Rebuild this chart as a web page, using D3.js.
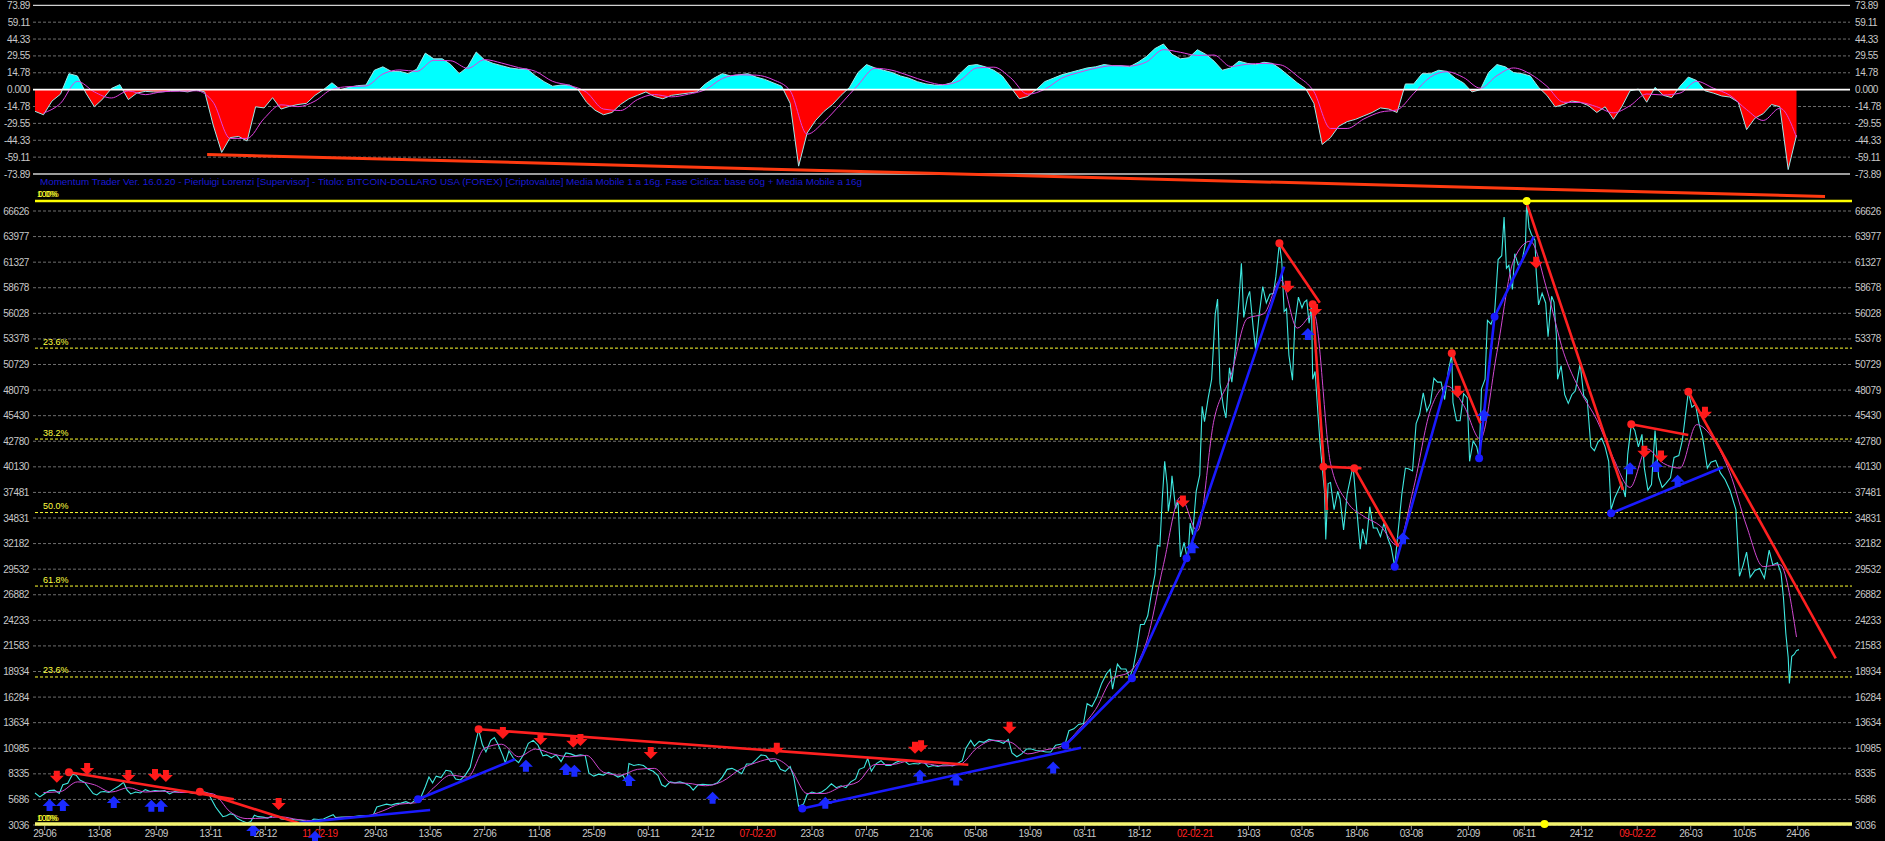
<!DOCTYPE html>
<html><head><meta charset="utf-8">
<script src="https://cdn.jsdelivr.net/npm/d3@7"></script>
<style>
html,body{margin:0;padding:0;background:#000;overflow:hidden}
svg{display:block}
text{font-family:"Liberation Sans",Arial,sans-serif}
</style></head><body>
<svg id="chart" width="1885" height="841"></svg>
<script>
// ---------------- DATA ----------------
const headerText = "Momentum Trader   Ver. 16.0.20   -   Pierluigi Lorenzi   [Supervisor]  -  Titolo: BITCOIN-DOLLARO USA (FOREX)   [Criptovalute]    Media Mobile 1 a 16g.    Fase Ciclica: base 60g + Media Mobile a 16g";

const oscTicks = [73.89, 59.11, 44.33, 29.55, 14.78, 0, -14.78, -29.55, -44.33, -59.11, -73.89];
const oscTickLabels = ["73.89","59.11","44.33","29.55","14.78","0.000","-14.78","-29.55","-44.33","-59.11","-73.89"];
const priceTicks = [3036,5686,8335,10985,13634,16284,18934,21583,24233,26882,29532,32182,34831,37481,40130,42780,45430,48079,50729,53378,56028,58678,61327,63977,66626];

const xTickDates = ["2018-06-29","2018-08-13","2018-09-29","2018-11-13","2018-12-28","2019-02-11","2019-03-29","2019-05-13","2019-06-27","2019-08-11","2019-09-25","2019-11-09","2019-12-24","2020-02-07","2020-03-23","2020-05-07","2020-06-21","2020-08-05","2020-09-19","2020-11-03","2020-12-18","2021-02-02","2021-03-19","2021-05-03","2021-06-18","2021-08-03","2021-09-20","2021-11-06","2021-12-24","2022-02-09","2022-03-26","2022-05-10","2022-06-24"];
const xTickLabels = ["29-06","13-08","29-09","13-11","28-12","11-02-19","29-03","13-05","27-06","11-08","25-09","09-11","24-12","07-02-20","23-03","07-05","21-06","05-08","19-09","03-11","18-12","02-02-21","19-03","03-05","18-06","03-08","20-09","06-11","24-12","09-02-22","26-03","10-05","24-06"];

const pricePoints = [
["2018-06-21",6350],["2018-06-25",5950],["2018-06-29",6300],["2018-07-03",6600],["2018-07-07",6650],["2018-07-11",6300],["2018-07-14",7200],["2018-07-18",7350],["2018-07-22",8300],["2018-07-25",8200],["2018-07-28",7700],["2018-08-01",7450],["2018-08-04",6950],["2018-08-08",6300],["2018-08-11",6150],["2018-08-14",6450],["2018-08-17",6500],["2018-08-21",6400],["2018-08-25",6750],["2018-08-29",7050],["2018-09-02",7450],["2018-09-05",6650],["2018-09-08",6250],["2018-09-12",6450],["2018-09-16",6350],["2018-09-20",6700],["2018-09-24",6500],["2018-09-28",6600],["2018-10-02",6550],["2018-10-06",6600],["2018-10-10",6250],["2018-10-14",6500],["2018-10-18",6450],["2018-10-22",6450],["2018-10-26",6400],["2018-10-30",6300],["2018-11-04",6450],["2018-11-08",6450],["2018-11-11",6300],["2018-11-14",5600],["2018-11-17",4900],["2018-11-20",4400],["2018-11-23",3900],["2018-11-26",4000],["2018-11-29",4200],["2018-12-02",4100],["2018-12-05",3700],["2018-12-09",3450],["2018-12-13",3250],["2018-12-16",3400],["2018-12-19",4050],["2018-12-22",3900],["2018-12-26",3850],["2018-12-30",3750],
["2019-01-03",4000],["2019-01-07",4000],["2019-01-10",3650],["2019-01-14",3600],["2019-01-18",3650],["2019-01-22",3550],["2019-01-26",3550],["2019-01-30",3450],["2019-02-03",3400],["2019-02-06",3650],["2019-02-10",3600],["2019-02-14",3650],["2019-02-18",3900],["2019-02-22",4100],["2019-02-24",3800],["2019-03-01",3850],["2019-03-06",3850],["2019-03-11",3900],["2019-03-16",4000],["2019-03-21",4000],["2019-03-27",4050],["2019-03-30",4900],["2019-04-03",5050],["2019-04-07",5200],["2019-04-11",5100],["2019-04-15",5250],["2019-04-19",5300],["2019-04-23",5450],["2019-04-27",5250],["2019-05-01",5650],["2019-05-05",5800],["2019-05-09",7000],["2019-05-12",8000],["2019-05-15",7400],["2019-05-18",8100],["2019-05-22",7950],["2019-05-26",8700],["2019-05-30",8600],["2019-06-03",7800],["2019-06-07",7700],["2019-06-11",8200],["2019-06-15",9000],["2019-06-18",10700],["2019-06-22",12900],["2019-06-25",11400],["2019-06-28",10600],["2019-07-02",11800],["2019-07-05",12100],["2019-07-08",11400],["2019-07-12",10200],["2019-07-14",9500],["2019-07-17",10700],["2019-07-21",9900],["2019-07-25",9500],["2019-07-29",10300],["2019-08-02",11500],["2019-08-06",11800],["2019-08-10",11300],["2019-08-14",10200],["2019-08-17",10300],["2019-08-21",10000],["2019-08-25",10300],["2019-08-29",9600],["2019-09-02",10500],["2019-09-06",10400],["2019-09-10",10200],["2019-09-14",10300],["2019-09-18",10200],["2019-09-21",8400],["2019-09-25",8100],["2019-09-29",8300],["2019-10-03",8200],["2019-10-07",8500],["2019-10-11",8300],["2019-10-15",8000],["2019-10-19",8200],["2019-10-22",7450],["2019-10-24",9400],["2019-10-28",9200],["2019-11-01",9300],["2019-11-05",9200],["2019-11-09",8800],["2019-11-13",8600],["2019-11-17",8150],["2019-11-20",7200],["2019-11-23",7000],["2019-11-27",7500],["2019-12-01",7400],["2019-12-05",7500],["2019-12-09",7350],["2019-12-13",7100],["2019-12-16",6650],["2019-12-20",7200],["2019-12-24",7250],["2019-12-28",7200],
["2020-01-01",7200],["2020-01-05",7400],["2020-01-09",8000],["2020-01-13",8800],["2020-01-17",8900],["2020-01-21",8650],["2020-01-25",8350],["2020-01-29",9350],["2020-02-02",9350],["2020-02-06",9800],["2020-02-10",10300],["2020-02-14",10200],["2020-02-18",9600],["2020-02-22",9700],["2020-02-26",8800],["2020-03-01",8600],["2020-03-05",9100],["2020-03-08",8000],["2020-03-12",4950],["2020-03-16",5200],["2020-03-19",6200],["2020-03-23",6450],["2020-03-27",6300],["2020-03-31",6450],["2020-04-04",6800],["2020-04-08",7300],["2020-04-12",6900],["2020-04-16",7100],["2020-04-20",6900],["2020-04-24",7500],["2020-04-28",7800],["2020-05-01",8800],["2020-05-05",9000],["2020-05-08",9950],["2020-05-11",8600],["2020-05-15",9400],["2020-05-19",9700],["2020-05-23",9200],["2020-05-27",9200],["2020-05-31",9500],["2020-06-03",9650],["2020-06-07",9700],["2020-06-11",9300],["2020-06-15",9400],["2020-06-19",9350],["2020-06-23",9600],["2020-06-27",9050],["2020-07-01",9200],["2020-07-05",9100],["2020-07-09",9250],["2020-07-13",9250],["2020-07-17",9150],["2020-07-21",9400],["2020-07-25",9700],["2020-07-28",11000],["2020-08-01",11800],["2020-08-04",11200],["2020-08-08",11700],["2020-08-12",11600],["2020-08-16",11900],["2020-08-20",11800],["2020-08-24",11700],["2020-08-28",11500],["2020-09-01",11900],["2020-09-04",10500],["2020-09-08",10100],["2020-09-12",10400],["2020-09-16",10900],["2020-09-20",10900],["2020-09-24",10750],["2020-09-28",10700],["2020-10-02",10600],["2020-10-06",10600],["2020-10-10",11300],["2020-10-14",11400],["2020-10-18",11500],["2020-10-21",12800],["2020-10-25",13000],["2020-10-29",13450],["2020-11-02",13550],["2020-11-05",15600],["2020-11-09",15300],["2020-11-13",16300],["2020-11-17",17700],["2020-11-21",18700],["2020-11-24",19150],["2020-11-26",17100],["2020-11-30",19700],["2020-12-03",19200],["2020-12-07",19200],["2020-12-10",18300],["2020-12-13",19300],["2020-12-16",21300],["2020-12-19",23800],["2020-12-22",23800],["2020-12-25",24700],["2020-12-28",27000],["2020-12-31",29000],
["2021-01-02",32000],["2021-01-04",31900],["2021-01-06",36800],["2021-01-08",40700],["2021-01-10",38300],["2021-01-11",35500],["2021-01-13",37300],["2021-01-14",39200],["2021-01-17",35800],["2021-01-19",36600],["2021-01-21",30800],["2021-01-24",32300],["2021-01-27",30400],["2021-01-29",34300],["2021-01-31",33100],["2021-02-03",37600],["2021-02-06",39300],["2021-02-08",46400],["2021-02-10",44800],["2021-02-13",47200],["2021-02-16",49200],["2021-02-19",55900],["2021-02-21",57500],["2021-02-23",48800],["2021-02-26",46300],["2021-02-28",45200],["2021-03-03",50400],["2021-03-05",48900],["2021-03-08",52400],["2021-03-11",57400],["2021-03-13",61200],["2021-03-15",55600],["2021-03-18",57600],["2021-03-20",58300],["2021-03-23",54500],["2021-03-25",52300],["2021-03-28",55900],["2021-03-31",58800],["2021-04-03",57100],["2021-04-06",58000],["2021-04-09",58100],["2021-04-11",59800],["2021-04-14",63300],["2021-04-16",61400],["2021-04-18",56200],["2021-04-20",56500],["2021-04-22",51700],["2021-04-25",49100],["2021-04-27",55000],["2021-04-30",57700],["2021-05-03",56600],["2021-05-05",57200],["2021-05-07",57400],["2021-05-09",55000],["2021-05-11",56900],["2021-05-12",49200],["2021-05-14",50000],["2021-05-16",46400],["2021-05-18",42900],["2021-05-20",40100],["2021-05-22",37500],["2021-05-23",32600],["2021-05-25",38400],["2021-05-27",38500],["2021-05-30",35700],["2021-06-02",37600],["2021-06-04",36800],["2021-06-07",33600],["2021-06-10",37300],["2021-06-13",39100],["2021-06-15",40200],["2021-06-18",35800],["2021-06-21",31600],["2021-06-23",33700],["2021-06-26",32100],["2021-06-29",36000],["2021-07-02",33800],["2021-07-05",33800],["2021-07-08",32900],["2021-07-11",34300],["2021-07-14",32800],["2021-07-17",31800],["2021-07-20",29800],["2021-07-23",33600],["2021-07-26",37300],["2021-07-29",40000],["2021-08-01",39900],["2021-08-04",39700],["2021-08-07",44600],["2021-08-10",45600],["2021-08-13",47800],["2021-08-16",45900],["2021-08-19",46700],["2021-08-22",49300],["2021-08-25",48900],["2021-08-28",48900],["2021-08-31",47100],["2021-09-03",50000],["2021-09-06",51800],["2021-09-07",46800],["2021-09-10",44900],["2021-09-13",44900],["2021-09-16",47700],["2021-09-19",47300],["2021-09-21",40700],["2021-09-24",42800],["2021-09-27",42200],["2021-09-29",41000],["2021-10-01",48200],["2021-10-04",49200],["2021-10-06",55300],["2021-10-09",54900],["2021-10-12",56000],["2021-10-15",61600],["2021-10-18",62000],["2021-10-20",66000],["2021-10-22",60700],["2021-10-24",61000],["2021-10-27",58500],["2021-10-29",62200],["2021-11-01",61000],["2021-11-04",61400],["2021-11-07",63300],["2021-11-08",67600],["2021-11-10",64900],["2021-11-12",64200],["2021-11-15",63600],["2021-11-16",60400],["2021-11-18",56900],["2021-11-21",58100],["2021-11-24",57100],["2021-11-26",53600],["2021-11-29",57800],["2021-12-01",57200],["2021-12-03",53700],["2021-12-04",49200],["2021-12-07",50600],["2021-12-10",47600],["2021-12-13",46700],["2021-12-16",47600],["2021-12-19",48000],["2021-12-23",50800],["2021-12-26",47500],["2021-12-29",47000],
["2022-01-01",42200],["2022-01-04",41800],["2022-01-07",42700],["2022-01-10",43100],["2022-01-13",42200],["2022-01-16",40700],["2022-01-18",35700],["2022-01-21",36900],["2022-01-24",37700],["2022-01-27",38500],["2022-01-30",37000],["2022-02-01",41400],["2022-02-04",44500],["2022-02-07",43900],["2022-02-10",42200],["2022-02-13",43500],["2022-02-15",40000],["2022-02-18",37700],["2022-02-21",38300],["2022-02-24",43900],["2022-02-27",39100],["2022-03-02",38000],["2022-03-05",38400],["2022-03-09",39000],["2022-03-12",41100],["2022-03-16",41300],["2022-03-19",42900],["2022-03-24",47900],["2022-03-27",46300],["2022-03-30",46600],["2022-04-02",44600],["2022-04-05",43200],["2022-04-09",40000],["2022-04-12",40600],["2022-04-16",40800],["2022-04-20",39500],["2022-04-24",38800],["2022-04-28",37700],["2022-05-03",35700],["2022-05-06",28800],["2022-05-09",29900],["2022-05-12",31300],["2022-05-15",28700],["2022-05-19",29400],["2022-05-23",29600],["2022-05-27",28600],["2022-05-31",31500],["2022-06-03",30000],["2022-06-07",30200],["2022-06-10",29100],["2022-06-12",26600],["2022-06-14",22900],["2022-06-16",20400],["2022-06-17",17700],["2022-06-19",20500],["2022-06-21",20700],["2022-06-23",21100],["2022-06-25",21200]
];

// 16-day moving average of the price, read every 14 days from 2018-06-28
const maStart = "2018-06-28";
const priceMA = [6400,6500,7500,7200,6450,6900,6450,6550,6400,6420,6250,4400,3700,3750,3880,3600,3480,3700,3880,3970,4500,5200,5350,6900,8200,8000,11000,11400,10100,10900,10400,10100,10250,8500,8200,8800,8900,7400,7350,7100,7550,8750,9500,9900,8900,6300,6300,7000,7500,9300,9300,9650,9400,9150,9300,11000,11800,11600,10400,10800,11200,12900,15000,18200,18900,22000,30000,37000,33500,45000,49500,55500,56000,59500,54500,56000,40500,36500,35000,34000,32000,38000,46000,48500,46500,43000,52000,61500,63500,58500,52000,48000,45000,41000,38000,42000,40500,40000,44500,43000,39500,34000,29800,30000,22500];

// momentum oscillator, read every 7 days from 2018-06-21
const oscStart = "2018-06-21";
const oscValues = [-19,-22,-10,-4,14,12,-3,-15,-8,1, 4.4,-8.7,-3,-1.5,-2,-2,-1,-1,-2,0, -2,-31,-55,-42,-41,-45,-15,-16,-7,-17, -14.6,-13,-12,-5,0,6,0,2,3.5,4, 17,20,16,16,14,18,32,27,27,22, 14,20,33,26,23,21,19,18,18,12, 7,3,4,4,0,-11,-18,-22,-20,-13, -8,-5,-2,-6,-8,-5,-4,-3,-2,5, 10,14,12,13,14,11,9,6,3,-12, -67,-38,-27,-19,-13,-5,2,15,22,19, 17,15,12,10,7,5,4,4,6,14, 21,22,20,17,12,2,-8,-6,0,7, 10,13,15,17,19,20,22,21,21,20, 24,29,36,40,31,27,28,35,31,25, 17,19,25,23,22,24,23,18,12,6, 1,-12,-48,-42,-32,-28,-26,-23,-20,-16, -17,-20,5,5,14,14,17,16,10,5.8, -2,0,15,22,20,15,14,12,2,-5, -15,-13,-10,-11,-14,-20,-15,-26,-15,-1, 0.5,-11,2,-5,-7,3,11,8,-1,-3, -5.5,-6.5,-11,-35,-25,-21,-13,-15,-70,-40];
// oscillator moving average, read every 14 days from 2018-06-28
const oscMA = [-20.5,-12,7.3,-2,-7.3,-1.1,-4.4,-1.8,-1.3,-1, -11,-42.7,-42.7,-25.3,-13.3,-14.9,-10,0.3,2.7,3.2, 13.7,17.3,16,25.7,25.3,18.7,26.3,23.3,19.3,16, 7.3,3.7,-2.3,-17,-18.3,-8.7,-4.3,-6.3,-4,0, 9.7,13,12.7,8.7,-1,-39,-28,-12.3,4,18.7, 17,12.3,7.3,4.3,8,19,19.7,10.3,-4,0.3, 10,15,18.7,21,20.7,24.3,35,32.7,30,30.3, 20.3,22.3,23,21.7,12,-1.7,-34,-34,-25.7,-19.7, -17.7,-3.3,11,15.7,10.6,1.3,12.3,19,13.7,3, -11,-11.3,-15,-20.3,-14,-3.8,-4.7,-3,7.3,1.3, -5,-17.5,-27,-16.3,-41.7];
const oscTrend = [["2018-11-10",-56.8],["2022-07-17",-93.6]];

const sellSignals = [["2018-07-09",8040],["2018-08-03",8840],["2018-09-06",8110],["2018-09-28",8215],["2018-10-07",8110],["2019-01-08",5210],["2019-07-12",12560],["2019-08-12",11940],["2019-09-08",11660],["2019-09-14",11840],["2019-11-11",10490],["2020-02-23",10930],["2020-06-16",11030],["2020-06-21",11180],["2020-09-02",13120],["2021-01-23",36550],["2021-04-21",58790],["2021-05-14",56370],["2021-09-11",47910],["2021-11-16",61270],["2022-02-15",41700],["2022-03-01",41190],["2022-04-07",45740]];
const buySignals = [["2018-07-03",5110],["2018-07-14",5110],["2018-08-25",5420],["2018-09-25",5035],["2018-10-03",5035],["2018-12-18",2520],["2019-02-07",1820],["2019-07-31",9180],["2019-09-02",8840],["2019-09-09",8660],["2019-10-24",7700],["2020-01-01",5870],["2020-04-03",5350],["2020-06-20",8170],["2020-07-20",7750],["2020-10-08",8980],["2021-01-31",31790],["2021-05-08",53890],["2021-07-27",32730],["2021-10-03",45500],["2022-02-03",39980],["2022-02-25",40220],["2022-03-15",38700]];
const redPivots = [["2018-07-19",8490],["2018-11-04",6485],["2019-06-22",12950],["2021-04-14",63280],["2021-05-12",56960],["2021-05-21",40150],["2021-06-16",39980],["2021-09-06",51890],["2022-02-04",44540],["2022-03-24",47910]];
const bluePivots = [["2019-05-03",5700],["2020-03-15",4750],["2020-10-18",11280],["2020-12-12",18240],["2021-01-26",30650],["2021-07-20",29790],["2021-09-29",41020],["2021-10-12",55680],["2022-01-18",35320]];
const redTrendLines = [
 [["2018-07-19",8490],["2018-12-02",5700]],
 [["2018-11-04",6485],["2019-01-25",3210]],
 [["2019-06-22",12950],["2020-07-30",9270]],
 [["2021-04-14",63280],["2021-05-18",57130]],
 [["2021-05-12",56890],["2021-05-24",35660]],
 [["2021-05-21",40150],["2021-06-22",39980]],
 [["2021-06-16",39980],["2021-07-23",31860]],
 [["2021-09-06",51890],["2021-09-30",44640]],
 [["2021-11-08",67430],["2022-01-28",37730]],
 [["2022-02-04",44540],["2022-03-24",43430]],
 [["2022-03-24",47910],["2022-07-26",20300]]
];
const blueTrendLines = [
 [["2019-01-25",3270],["2019-05-13",4590]],
 [["2019-05-03",5700],["2019-07-22",9840]],
 [["2020-03-15",4750],["2020-10-31",11030]],
 [["2020-10-18",11280],["2020-12-12",18240],["2021-01-26",30650],["2021-04-18",60860]],
 [["2021-07-20",29790],["2021-09-06",50860]],
 [["2021-09-29",41020],["2021-10-12",55680],["2021-11-14",63970]],
 [["2022-01-18",35320],["2022-04-22",40080]]
];
const fibHigh = 67650, fibLow = 3140;
const fibLevels = [0.236, 0.382, 0.5, 0.618, 0.764];
const fibLabels = ["23.6%","38.2%","50.0%","61.8%","23.6%"];
const extremeDots = [["2021-11-08",67650],["2021-11-23",3140]];

// ---------------- DRAW ----------------
const W = 1885, H = 841, XL = 33, XR = 1852;
const parse = d3.timeParse("%Y-%m-%d");
const svg = d3.select("#chart");
svg.append("rect").attr("width",W).attr("height",H).attr("fill","#000");

const x = d3.scaleTime()
  .domain([parse("2018-06-21"), parse("2021-02-02"), parse("2022-08-07")])
  .range([35, 1195, 1850]);
const yO = d3.scaleLinear().domain([-73.89, 73.89]).range([174, 5.3]);
const yP = d3.scaleLinear().domain([3036, 66626]).range([825, 211]);

const labelColor = "#c8c8c8";
function axisLabel(g, xx, yy, txt, anchor, color){
  g.append("text").attr("x",xx).attr("y",yy).attr("dy","0.35em")
   .attr("text-anchor",anchor).attr("font-size",10).attr("letter-spacing",-0.4)
   .attr("fill",color||labelColor).text(txt);
}

// ---- oscillator panel ----
const gO = svg.append("g");
oscTicks.forEach((v,k)=>{
  const yy = yO(v);
  const edge = Math.abs(v) > 70;
  gO.append("line").attr("x1",XL).attr("x2",XR-2).attr("y1",yy).attr("y2",yy)
    .attr("stroke", edge ? "#d0d0d0" : "#6e6e6e")
    .attr("stroke-width", edge ? 1.3 : 1)
    .attr("stroke-dasharray", edge || v===0 ? null : "3,2");
  axisLabel(gO, 30, yy, oscTickLabels[k], "end");
  axisLabel(gO, 1855, yy, oscTickLabels[k], "start");
});

const oscStartDate = parse(oscStart);
const osc = oscValues.map((v,i)=>({date: d3.timeDay.offset(oscStartDate, 7*i), v}));
const maStartDate = parse(maStart);
const oscMAData = oscMA.map((v,i)=>({date: d3.timeDay.offset(maStartDate, 14*i), v}));

const defs = svg.append("defs");
defs.append("clipPath").attr("id","cpos").append("rect").attr("x",0).attr("y",0).attr("width",W).attr("height",yO(0));
defs.append("clipPath").attr("id","cneg").append("rect").attr("x",0).attr("y",yO(0)).attr("width",W).attr("height",200);
const oArea = d3.area().x(d=>x(d.date)).y0(yO(0)).y1(d=>yO(d.v));
gO.append("path").datum(osc).attr("d",oArea).attr("fill","#00ffff").attr("clip-path","url(#cpos)");
gO.append("path").datum(osc).attr("d",oArea).attr("fill","#ff0000").attr("clip-path","url(#cneg)");
gO.append("path").datum(osc).attr("d", d3.line().x(d=>x(d.date)).y(d=>yO(d.v)))
  .attr("fill","none").attr("stroke","#9fe8e8").attr("stroke-width",1);
gO.append("path").datum(oscMAData).attr("d", d3.line().curve(d3.curveMonotoneX).x(d=>x(d.date)).y(d=>yO(d.v)))
  .attr("fill","none").attr("stroke","#e040e0").attr("stroke-width",1);
gO.append("line").attr("x1",XL).attr("x2",XR-2).attr("y1",yO(0)).attr("y2",yO(0))
  .attr("stroke","#ffffff").attr("stroke-width",1.6);

// header
svg.append("text").attr("x",40).attr("y",185).attr("font-size",9.5).attr("fill","#1a1ad2")
  .attr("textLength",822).attr("lengthAdjust","spacingAndGlyphs").text(headerText);

// ---- price panel grid ----
const gP = svg.append("g");
priceTicks.forEach(v=>{
  const yy = yP(v);
  gP.append("line").attr("x1",XL).attr("x2",XR).attr("y1",yy).attr("y2",yy)
    .attr("stroke","#6e6e6e").attr("stroke-width",1).attr("stroke-dasharray","3,2");
  axisLabel(gP, 29, yy, String(v), "end");
  axisLabel(gP, 1855, yy, String(v), "start");
});
// fibonacci levels
fibLevels.forEach((f,k)=>{
  const yy = yP(fibHigh - f*(fibHigh-fibLow));
  gP.append("line").attr("x1",XL+2).attr("x2",XR).attr("y1",yy).attr("y2",yy)
    .attr("stroke","#ffff30").attr("stroke-width",1).attr("stroke-dasharray","3,2");
  gP.append("text").attr("x",43).attr("y",yy-3.5).attr("font-size",9).attr("fill","#ffff40").text(fibLabels[k]);
});

// x axis ticks and labels
xTickDates.forEach((d,k)=>{
  const xx = x(parse(d));
  gP.append("line").attr("x1",xx).attr("x2",xx).attr("y1",826).attr("y2",830).attr("stroke","#909090");
  const lbl = xTickLabels[k];
  gP.append("text").attr("x",xx).attr("y",837).attr("text-anchor","middle")
    .attr("font-size",10).attr("letter-spacing",-0.5)
    .attr("fill", lbl.length > 5 ? "#ff2020" : labelColor).text(lbl);
});

// price and its moving average
const price = pricePoints.map(p=>({date: parse(p[0]), v: p[1]}));
const pMA = priceMA.map((v,i)=>({date: d3.timeDay.offset(maStartDate, 14*i), v}));
gP.append("path").datum(price).attr("d", d3.line().x(d=>x(d.date)).y(d=>yP(d.v)))
  .attr("fill","none").attr("stroke","#3ee8e0").attr("stroke-width",1.1);
gP.append("path").datum(pMA).attr("d", d3.line().curve(d3.curveMonotoneX).x(d=>x(d.date)).y(d=>yP(d.v)))
  .attr("fill","none").attr("stroke","#d048d0").attr("stroke-width",1);

// trend lines
const tl = d3.line().x(p=>x(parse(p[0]))).y(p=>yP(p[1]));
redTrendLines.forEach(seg=>{
  gP.append("path").attr("d",tl(seg)).attr("fill","none").attr("stroke","#ff2020").attr("stroke-width",2.6);
});
blueTrendLines.forEach(seg=>{
  gP.append("path").attr("d",tl(seg)).attr("fill","none").attr("stroke","#1a1aff").attr("stroke-width",2.6);
});
redPivots.forEach(p=>{
  gP.append("circle").attr("cx",x(parse(p[0]))).attr("cy",yP(p[1])).attr("r",4).attr("fill","#ff2020");
});
bluePivots.forEach(p=>{
  gP.append("circle").attr("cx",x(parse(p[0]))).attr("cy",yP(p[1])).attr("r",4).attr("fill","#1a1aff");
});
// signals
const downArrow = "M-3,-6H3V-1H7L0,6L-7,-1H-3Z";
const upArrow = "M-3,6H3V1H7L0,-6L-7,1H-3Z";
sellSignals.forEach(p=>{
  gP.append("path").attr("d",downArrow).attr("fill","#ff1a1a")
    .attr("transform",`translate(${x(parse(p[0]))},${yP(p[1])})`);
});
buySignals.forEach(p=>{
  gP.append("path").attr("d",upArrow).attr("fill","#1a2aff")
    .attr("transform",`translate(${x(parse(p[0]))},${yP(p[1])})`);
});

// 0% / 100% solid lines
gP.append("line").attr("x1",XL+2).attr("x2",XR).attr("y1",yP(fibHigh)).attr("y2",yP(fibHigh))
  .attr("stroke","#ffff00").attr("stroke-width",2.5);
gP.append("line").attr("x1",XL+2).attr("x2",XR).attr("y1",yP(fibLow)).attr("y2",yP(fibLow))
  .attr("stroke","#f4f470").attr("stroke-width",3.5);
[[197, fibHigh],[821, fibLow]].forEach(r=>{
  gP.append("text").attr("x",37).attr("y",r[0]).attr("font-size",8.5).attr("fill","#ffff30").text("100%");
  gP.append("text").attr("x",38).attr("y",r[0]).attr("font-size",8.5).attr("fill","#ffff30").text("0.0%");
});
extremeDots.forEach(p=>{
  gP.append("circle").attr("cx",x(parse(p[0]))).attr("cy",yP(p[1])).attr("r",4).attr("fill","#ffff00");
});

// long oscillator trend line
svg.append("path").attr("d", d3.line().x(p=>x(parse(p[0]))).y(p=>yO(p[1]))(oscTrend))
  .attr("fill","none").attr("stroke","#ff3a10").attr("stroke-width",3);
</script>
</body></html>
